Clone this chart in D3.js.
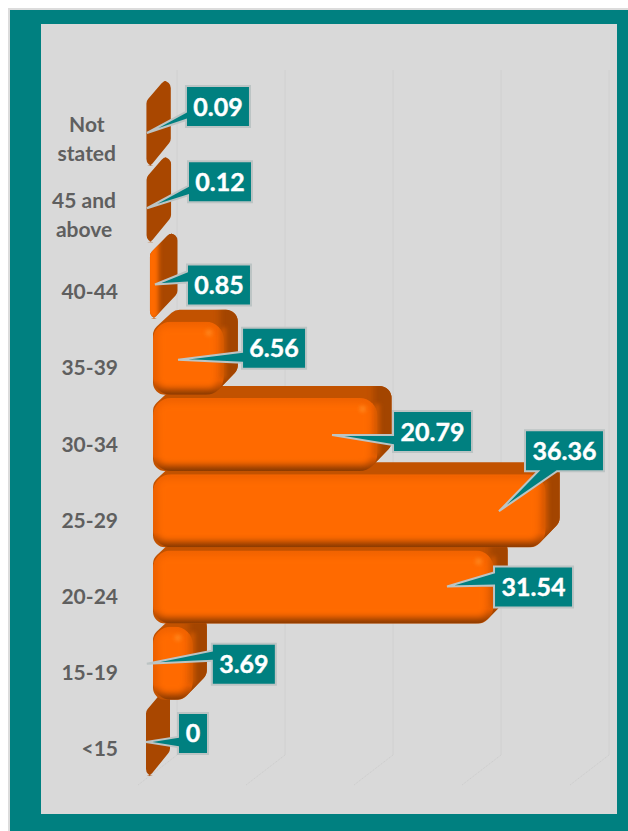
<!DOCTYPE html>
<meta charset="utf-8">
<style>
html, body { margin: 0; background: #fff; }
svg { display: block; }
text { font-family: Lato, sans-serif; font-weight: 700; }
.tick-label { fill: #5f5f5f; font-size: 21px; }
.value { fill: #fff; font-size: 25px; stroke: #fff; stroke-width: 0.4px; }
</style>
<svg width="628" height="831"></svg>
<script src="https://d3js.org/d3.v7.min.js"></script>
<script>
// bottom to top, as in the chart
var categories = ["<15", "15-19", "20-24", "25-29", "30-34", "35-39", "40-44", "45 and above", "Not stated"];
var values = [0, 3.69, 31.54, 36.36, 20.79, 6.56, 0.85, 0.12, 0.09];
var tickLines = [["<15"], ["15-19"], ["20-24"], ["25-29"], ["30-34"], ["35-39"], ["40-44"], ["45 and", "above"], ["Not", "stated"]];
var gridTicks = [0, 10, 20, 30, 40];

// callout placement relative to the end of each bar: box x/y, tip x/y, wedge base start/end
var calloutLayout = [
  [25, -26.5, -7, 2.5, 24, 34],
  [19, -19.5, -46, 0.5, 7, 17],
  [0.4, -20.5, -46.6, -0.5, 6, 19],
  [-20.7, -80.5, -46.7, 0.5, 13, 32],
  [15.5, -23.5, -45.5, 0.5, 24, 34],
  [18.2, -30.5, -45.8, 1.5, 24, 35],
  [24.8, -17.5, -7.2, 2.5, 7, 18],
  [33.7, -44.5, -7.3, 2.5, 25, 34],
  [32, -43.5, -7, 3.5, 26, 34]
];

var svg = d3.select("svg");
var x = d3.scaleLinear().domain([0, 40]).range([153, 585]);
var y = d3.scaleBand().domain(categories).range([776, 93]).paddingInner(0.0426).paddingOuter(0);

var depthX = 14, depthY = 12;
var teal = "#008080";

// frame
svg.append("rect").attr("x", 9).attr("y", 9).attr("width", 630).attr("height", 840)
    .attr("fill", teal).attr("stroke", "#dcdcdc").attr("stroke-width", 2);
svg.append("rect").attr("x", 41).attr("y", 24).attr("width", 576).attr("height", 790).attr("fill", "#d9d9d9");

var defs = svg.append("defs");
defs.append("filter").attr("id", "soft").attr("x", "-30%").attr("y", "-30%").attr("width", "160%").attr("height", "160%")
  .append("feGaussianBlur").attr("stdDeviation", 3);
defs.append("filter").attr("id", "glow").attr("x", "-100%").attr("y", "-100%").attr("width", "300%").attr("height", "300%")
  .append("feGaussianBlur").attr("stdDeviation", 2);
var edge = defs.append("linearGradient").attr("id", "edge").attr("x1", 0).attr("x2", 0).attr("y1", 0).attr("y2", 1);
edge.append("stop").attr("offset", "0%").attr("stop-color", "#f06200");
edge.append("stop").attr("offset", "80%").attr("stop-color", "#e65d00");
edge.append("stop").attr("offset", "100%").attr("stop-color", "#8a3a00");

// grid walls and floor
var grid = svg.append("g").selectAll("g").data(gridTicks).enter().append("g");
grid.append("line")
    .attr("x1", d => x(d) + 24).attr("x2", d => x(d) + 24)
    .attr("y1", 70).attr("y2", 755)
    .attr("stroke", "#d0d0d0");
grid.append("line")
    .attr("x1", d => x(d) + 24).attr("x2", d => x(d) - 15)
    .attr("y1", 755).attr("y2", 785)
    .attr("stroke", "#cbcbcb").attr("stroke-dasharray", "1 1");

function roundedPolygon(points, radius) {
  var p = d3.path(), n = points.length;
  var start = [(points[0][0] + points[n - 1][0]) / 2, (points[0][1] + points[n - 1][1]) / 2];
  p.moveTo(start[0], start[1]);
  points.forEach(function(pt, i) {
    var next = points[(i + 1) % n];
    p.arcTo(pt[0], pt[1], next[0], next[1], radius);
  });
  p.closePath();
  return p.toString();
}

// bars with almost no length keep a minimum body, slightly to the left of the axis
function barGeometry(v, cat) {
  var thin = 1 - Math.min(v, 1.5) / 1.5;
  var xl = x(0) - 7 * thin;
  var xr = x(v) + 3 * thin;
  var yt = y(cat), yb = yt + y.bandwidth();
  var topStart = Math.min(22, 0.7 * (xr + depthX - xl));
  return {
    xl: xl, xr: xr, yt: yt, yb: yb,
    outline: [
      [xl, yb],
      [xl, yt + 8],
      [xl + topStart, yt - depthY],
      [xr + depthX, yt - depthY],
      [xr + depthX, yb - 25],
      [Math.max(xl + 4, xr - 10), yb]
    ]
  };
}

var bars = svg.append("g").selectAll("g")
    .data(categories.map((c, i) => ({cat: c, v: values[i], i: i})))
    .enter().append("g");

bars.each(function(d) {
  var g = d3.select(this), b = barGeometry(d.v, d.cat);
  var w = b.xr - b.xl, h = b.yb - b.yt;
  var narrow = w < 20;
  var outlinePath = roundedPolygon(b.outline, narrow ? 7 : 12);
  var r = Math.min(18, w / 2);

  defs.append("clipPath").attr("id", "body" + d.i).append("path").attr("d", outlinePath);
  g.append("path").attr("d", outlinePath).attr("fill", narrow ? "#a94700" : "#c25200");
  if (d.v < 0.5) return;

  if (narrow) {
    // just a strip of the front face shows
    g.append("rect").attr("clip-path", "url(#body" + d.i + ")")
        .attr("x", b.xl - 3).attr("y", b.yt - 6)
        .attr("width", w - 2).attr("height", h + 6)
        .attr("fill", "#ff6a00").attr("filter", "url(#glow)");
    return;
  }

  g.append("rect").attr("clip-path", "url(#body" + d.i + ")")
      .attr("x", b.xr - 4).attr("y", b.yt - depthY - 5)
      .attr("width", depthX + 12).attr("height", h + depthY + 10)
      .attr("fill", "#a34500").attr("filter", "url(#soft)");

  defs.append("clipPath").attr("id", "face" + d.i).append("rect")
      .attr("x", b.xl).attr("y", b.yt).attr("width", w).attr("height", h).attr("rx", r);
  var face = g.append("g").attr("clip-path", "url(#face" + d.i + ")");
  face.append("rect").attr("x", b.xl).attr("y", b.yt).attr("width", w).attr("height", h).attr("fill", "url(#edge)");
  face.append("rect")
      .attr("x", b.xl + 5).attr("y", b.yt + 5)
      .attr("width", Math.max(0, w - 12)).attr("height", h - 12).attr("rx", 8)
      .attr("fill", "#ff6a00").attr("filter", "url(#soft)");
  face.append("circle").attr("cx", b.xr - 15).attr("cy", b.yt + 11).attr("r", 3)
      .attr("fill", "#ff9a30").attr("opacity", 0.7).attr("filter", "url(#glow)");

  // soften the seam between the front and the side
  g.append("rect").attr("clip-path", "url(#body" + d.i + ")")
      .attr("x", b.xr - 3).attr("y", b.yt + 6)
      .attr("width", 5).attr("height", h - 22)
      .attr("fill", "#d25800").attr("filter", "url(#glow)");
});

// category axis, labels split on two lines where the chart does
var axis = svg.append("g").attr("transform", "translate(118,0)")
    .call(d3.axisLeft(y).tickSize(0).tickPadding(0));
axis.select(".domain").remove();
axis.selectAll(".tick text").each(function(c) {
  var lines = tickLines[categories.indexOf(c)];
  var t = d3.select(this).attr("class", "tick-label").attr("fill", null).attr("dy", null).attr("x", null).text(null);
  lines.forEach(function(line, i) {
    t.append("tspan").attr("x", 0).attr("y", 17 + (i - (lines.length - 1) / 2) * 29).text(line);
  });
  var w = d3.max(t.selectAll("tspan").nodes(), n => n.getComputedTextLength());
  t.attr("text-anchor", "middle").selectAll("tspan").attr("x", -w / 2 - (lines.length > 1 ? 2 : 0));
});
axis.attr("font-size", null).attr("font-family", null);

// callouts
var callouts = svg.append("g").selectAll("g")
    .data(categories.map((c, i) => ({cat: c, v: values[i], layout: calloutLayout[i]})))
    .enter().append("g");

callouts.each(function(d) {
  var g = d3.select(this);
  var ax = x(d.v), ay = y(d.cat) + y.bandwidth() / 2;
  var L = d.layout;
  var bx = ax + L[0], by = ay + L[1];
  var label = g.append("text").attr("class", "value").attr("text-anchor", "middle").text(String(d.v));
  var tw = label.node().getComputedTextLength();
  var bw = Math.round(tw) + 15, bh = 41;
  var tip = [ax + L[2], ay + L[3]];
  var pts;
  if (tip[1] - by - bh > 30) {
    // wedge leaves from the bottom edge
    pts = [[bx, by], [bx + bw, by], [bx + bw, by + bh], [bx + L[5], by + bh], tip, [bx + L[4], by + bh], [bx, by + bh]];
  } else {
    pts = [[bx, by], [bx + bw, by], [bx + bw, by + bh], [bx, by + bh], [bx, by + L[5]], tip, [bx, by + L[4]]];
  }
  g.insert("path", "text")
      .attr("d", d3.line()(pts) + "Z")
      .attr("fill", teal).attr("stroke", "#bcc4c4").attr("stroke-width", 2);
  label.attr("x", bx + bw / 2).attr("y", by + 29.5);
});
</script>
